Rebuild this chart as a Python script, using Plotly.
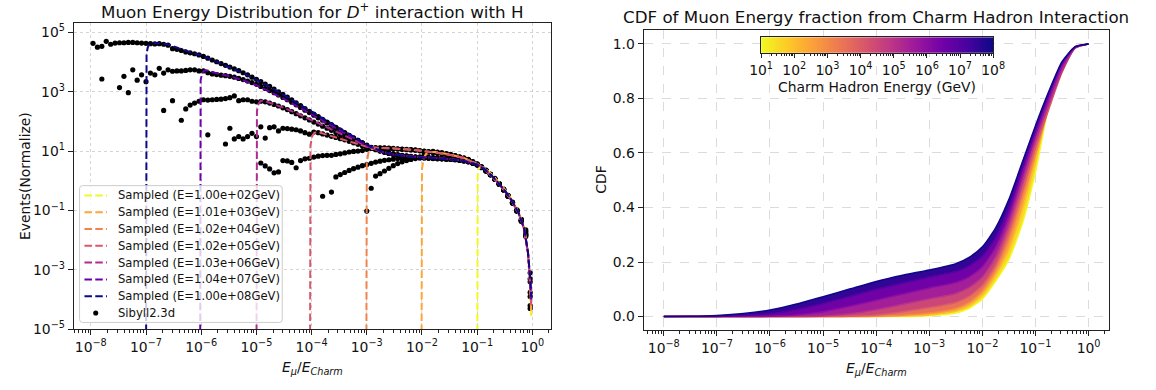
import math
import plotly.graph_objects as go
from plotly.colors import sample_colorscale

FONT = "DejaVu Sans"
N = None

# ---------------- Left panel: muon energy distribution ----------------
# Sibyll2.3d histogram bin centres, log10(E_mu/E_charm)
sib_bin_log10x = [-7.96 + 0.08 * i for i in range(100)]

# Sibyll2.3d normalised events, log10 values per bin (None = empty bin)
sib_log10y_1e8 = [4.63, 4.50, 4.53, 4.70, 4.60, 4.64, 4.65, 4.65, 4.66, 4.66,
                  4.65, 4.64, 4.63, 4.62, 4.61, 4.62, 4.60, 4.57, 4.45, 4.43,
                  4.39, 4.34, 4.31, 4.28, 4.24, 4.19, 4.13, 4.07, 4.01, 3.95,
                  3.89, 3.83, 3.77, 3.71, 3.64, 3.57, 3.49, 3.42, 3.34, 3.26,
                  3.18, 3.09, 3.00, 2.91, 2.82, 2.73, 2.63, 2.53, 2.43, 2.34,
                  2.25, 2.16, 2.07, 1.98, 1.89, 1.80, 1.71, 1.62, 1.53, 1.45,
                  1.36, 1.28, 1.20, 1.13, 1.07, 1.02, 0.98, 0.94, 0.91, 0.88,
                  0.86, 0.84, 0.82, 0.81, 0.80, 0.79, 0.78, 0.77, 0.76, 0.75,
                  0.74, 0.73, 0.72, 0.70, 0.68, 0.65, 0.60, 0.54, 0.45, 0.34,
                  0.21, 0.06, -0.11, -0.30, -0.51, -0.74, -1.01, -1.34, -1.84, -3.10]
sib_log10y_1e7 = [N, N, 3.43, N, N, N, 3.14, 3.52, 2.97, 3.74,
                  3.39, 3.57, 3.34, 3.63, 3.57, 3.79, 3.63, 3.74, 3.69, 3.70,
                  3.70, 3.72, 3.74, 3.74, 3.70, 3.70, 3.64, 3.60, 3.58, 3.56,
                  3.54, 3.52, 3.49, 3.45, 3.41, 3.36, 3.31, 3.25, 3.18, 3.11,
                  3.04, 2.97, 2.89, 2.81, 2.73, 2.65, 2.56, 2.47, 2.38, 2.30,
                  2.21, 2.12, 2.04, 1.95, 1.87, 1.78, 1.69, 1.61, 1.52, 1.44,
                  1.36, 1.28, 1.19, 1.12, 1.06, 1.01, 0.97, 0.93, 0.90, 0.87,
                  0.85, 0.83, 0.81, 0.80, 0.79, 0.78, 0.77, 0.76, 0.75, 0.74,
                  0.73, 0.72, 0.71, 0.69, 0.67, 0.64, 0.59, 0.53, 0.44, 0.33,
                  0.20, 0.05, -0.12, -0.31, -0.52, -0.75, -1.02, -1.36, -1.88, -3.40]
sib_log10y_1e6 = [N] * 16 + [2.37, N, 2.70, N,
                  2.04, 2.42, 2.55, 2.62, 2.68, 2.73, 2.72, 2.73, 2.74, 2.75,
                  2.77, 2.80, 2.86, 2.70, 2.73, 2.73, 2.68, 2.66, 2.68, 2.66,
                  2.62, 2.57, 2.52, 2.46, 2.40, 2.33, 2.26, 2.19, 2.12, 2.05,
                  1.98, 1.91, 1.84, 1.77, 1.70, 1.63, 1.56, 1.49, 1.42, 1.35,
                  1.28, 1.21, 1.15, 1.10, 1.05, 1.00, 0.96, 0.92, 0.89, 0.86,
                  0.84, 0.82, 0.80, 0.79, 0.78, 0.77, 0.76, 0.75, 0.74, 0.74,
                  0.73, 0.72, 0.71, 0.69, 0.67, 0.64, 0.60, 0.54, 0.45, 0.34,
                  0.21, 0.06, -0.11, -0.30, -0.51, -0.74, -1.00, -1.33, -1.80, -3.76]
sib_log10y_1e5 = [N] * 26 + [1.55, N, N, N,
                  1.24, 1.77, 1.41, 1.49, 1.41, 1.49, 1.60, 1.49, 1.82, 1.44,
                  1.79, 1.82, 1.68, 1.77, 1.76, 1.74, 1.72, 1.68, 1.62, 1.57,
                  1.64, 1.62, 1.58, 1.54, 1.50, 1.46, 1.42, 1.38, 1.33, 1.28,
                  1.23, 1.18, 1.13, 1.12, 1.12, 1.11, 1.11, 1.10, 1.09, 1.08,
                  1.07, 1.06, 1.05, 1.04, 1.02, 1.00, 0.98, 0.96, 0.94, 0.92,
                  0.90, 0.87, 0.84, 0.80, 0.76, 0.71, 0.64, 0.56, 0.46, 0.34,
                  0.21, 0.06, -0.11, -0.30, -0.51, -0.74, -1.01, -1.34, -1.82, -4.30]
sib_log10y_1e4 = [N] * 38 + [0.60, 0.50,
                  0.40, 0.27, 0.30, 0.68, 0.67, 0.62, 0.44, 0.68, 0.74, 0.76,
                  0.80, 0.83, 0.85, 0.86, 0.86, 0.89, 0.91, 0.94, 0.97, 0.99,
                  1.00, 1.02, 1.06, 1.09, 1.10, 1.10, 1.10, 1.09, 1.08, 1.07,
                  1.06, 1.05, 1.04, 1.03, 1.01, 0.99, 0.97, 0.95, 0.93, 0.91,
                  0.89, 0.86, 0.83, 0.79, 0.75, 0.70, 0.63, 0.55, 0.45, 0.33,
                  0.20, 0.05, -0.12, -0.31, -0.52, -0.75, -1.02, -1.36, -1.70, -3.30]
sib_log10y_1e3 = [N] * 52 + [-0.52, N, -0.38, 0.13, 0.21, 0.28, 0.35, 0.41,
                  0.46, 0.51, 0.55, 0.59, 0.63, 0.66, 0.69, 0.71, 0.73, 0.75,
                  0.76, 0.77, 0.78, 0.79, 0.80, 0.90, 0.97, 0.99, 0.97, 0.95,
                  0.92, 0.89, 0.85, 0.81, 0.77, 0.72, 0.65, 0.57, 0.47, 0.35,
                  0.22, 0.07, -0.10, -0.29, -0.50, -0.73, -0.99, -1.31, -1.75, -3.90]
sib_log10y_1e2 = [N] * 62 + [-1.02, -0.25, 0.16, 0.24, 0.33, 0.42, 0.51, 0.58,
                  0.64, 0.68, 0.72, 0.75, 0.77, 0.78, 0.78, 0.78, 0.77, 0.76,
                  0.75, 0.74, 0.73, 0.71, 0.68, 0.65, 0.60, 0.55, 0.47, 0.36,
                  0.23, 0.08, -0.09, -0.28, -0.49, -0.72, -0.98, -1.30, -1.65, -4.20]

# Sampled curves: log10(x) and log10(events) pairs (first point = drop to ~0)
samp_log10x_1e8 = [-7.00, -6.99, -6.96, -6.90, -6.75, -6.60, -6.40, -6.20, -6.00, -5.75, -5.50,
                   -5.25, -5.00, -4.75, -4.50, -4.25, -4.00, -3.75, -3.50, -3.25, -3.00,
                   -2.75, -2.50, -2.25, -2.00, -1.75, -1.50, -1.25, -1.00, -0.875, -0.75,
                   -0.625, -0.50, -0.375, -0.25, -0.15, -0.08, -0.04, -0.02]
samp_log10y_1e8 = [-8, 4.30, 4.55, 4.63, 4.63, 4.60, 4.46, 4.33, 4.23, 4.03, 3.84,
                   3.63, 3.41, 3.16, 2.89, 2.61, 2.33, 2.04, 1.77, 1.49, 1.22,
                   1.00, 0.88, 0.82, 0.79, 0.76, 0.72, 0.67, 0.54, 0.40, 0.20,
                   -0.05, -0.33, -0.66, -1.08, -1.60, -2.40, -3.30, -3.90]
samp_log10x_1e7 = [-6.02, -6.01, -5.98, -5.93, -5.85, -5.75, -5.50, -5.25, -5.00, -4.75, -4.50,
                   -4.25, -4.00, -3.75, -3.50, -3.25, -3.00, -2.75, -2.50, -2.25, -2.00,
                   -1.75, -1.50, -1.25, -1.00, -0.875, -0.75, -0.625, -0.50, -0.375, -0.25,
                   -0.15, -0.08, -0.04, -0.02]
samp_log10y_1e7 = [-8, 3.40, 3.64, 3.73, 3.70, 3.64, 3.53, 3.39, 3.22, 3.00, 2.76,
                   2.50, 2.23, 1.97, 1.71, 1.46, 1.20, 0.99, 0.88, 0.83, 0.80,
                   0.77, 0.73, 0.68, 0.55, 0.41, 0.20, -0.05, -0.33, -0.66, -1.08,
                   -1.60, -2.40, -3.30, -4.00]
samp_log10x_1e6 = [-5.00, -4.99, -4.96, -4.92, -4.85, -4.75, -4.50, -4.25, -4.00, -3.75, -3.50,
                   -3.25, -3.00, -2.75, -2.50, -2.25, -2.00, -1.75, -1.50, -1.25, -1.00,
                   -0.875, -0.75, -0.625, -0.50, -0.375, -0.25, -0.15, -0.08, -0.04, -0.02]
samp_log10y_1e6 = [-8, 2.35, 2.60, 2.70, 2.69, 2.63, 2.46, 2.26, 2.05, 1.83, 1.61,
                   1.39, 1.17, 0.99, 0.89, 0.83, 0.80, 0.77, 0.73, 0.68, 0.55,
                   0.41, 0.20, -0.05, -0.33, -0.66, -1.08, -1.60, -2.40, -3.30, -4.10]
samp_log10x_1e5 = [-4.03, -4.02, -3.99, -3.95, -3.88, -3.75, -3.50, -3.25, -3.00, -2.75, -2.50,
                   -2.25, -2.00, -1.75, -1.50, -1.25, -1.00, -0.875, -0.75, -0.625, -0.50,
                   -0.375, -0.25, -0.15, -0.08, -0.04, -0.02]
samp_log10y_1e5 = [-8, 1.20, 1.50, 1.62, 1.64, 1.57, 1.44, 1.29, 1.15, 1.11, 1.09,
                   1.06, 1.01, 0.95, 0.88, 0.77, 0.56, 0.41, 0.19, -0.06, -0.34,
                   -0.67, -1.10, -1.62, -2.42, -3.40, -4.20]
samp_log10x_1e4 = [-3.01, -3.00, -2.97, -2.93, -2.85, -2.75, -2.50, -2.25, -2.00, -1.75, -1.50,
                   -1.25, -1.00, -0.875, -0.75, -0.625, -0.50, -0.375, -0.25, -0.15, -0.08,
                   -0.04, -0.02]
samp_log10y_1e4 = [-8, 0.60, 0.95, 1.06, 1.10, 1.11, 1.09, 1.06, 1.01, 0.95, 0.88,
                   0.77, 0.56, 0.41, 0.19, -0.06, -0.34, -0.67, -1.10, -1.62, -2.42,
                   -3.40, -4.30]
samp_log10x_1e3 = [-2.01, -2.00, -1.97, -1.93, -1.85, -1.75, -1.50, -1.25, -1.00, -0.875, -0.75,
                   -0.625, -0.50, -0.375, -0.25, -0.15, -0.08, -0.04, -0.02]
samp_log10y_1e3 = [-8, 0.40, 0.75, 0.90, 0.97, 0.97, 0.89, 0.78, 0.57, 0.42, 0.20,
                   -0.05, -0.33, -0.67, -1.10, -1.62, -2.45, -3.45, -4.50]
samp_log10x_1e2 = [-1.00, -0.99, -0.97, -0.94, -0.875, -0.75, -0.625, -0.50, -0.375, -0.25,
                   -0.15, -0.08, -0.04, -0.02]
samp_log10y_1e2 = [-8, 0.20, 0.40, 0.47, 0.44, 0.24, -0.01, -0.29, -0.62, -1.04,
                   -1.56, -2.40, -3.45, -4.60]

samp_energy_labels = ["1.00e+02", "1.01e+03", "1.02e+04", "1.02e+05",
                      "1.03e+06", "1.04e+07", "1.00e+08"]
samp_colors = ["#f0f921", "#fca636", "#f2844b", "#d8576b", "#b12a90", "#6a00a8", "#0d0887"]

# ---------------- Right panel: CDF ----------------
cdf_log10x = [-8, -7.5, -7, -6.5, -6, -5.5, -5, -4.5, -4, -3.5, -3, -2.5, -2.25,
              -2, -1.75, -1.5, -1.25, -1, -0.75, -0.5, -0.25, 0]
cdf_log10E = [1, 2, 3, 4, 5, 6, 7, 8]
cdf_E1e1 = [0, 0, 0, 0, 0, 0, 0, 0, 0, 0, 0.003, 0.013, 0.030,
            0.065, 0.13, 0.21, 0.34, 0.53, 0.77, 0.915, 0.99, 1.0]
cdf_E1e2 = [0, 0, 0, 0, 0, 0, 0, 0, 0, 0.002, 0.006, 0.020, 0.040,
            0.080, 0.15, 0.245, 0.39, 0.57, 0.77, 0.905, 0.987, 1.0]
cdf_E1e3 = [0, 0, 0, 0, 0, 0, 0, 0, 0.001, 0.005, 0.013, 0.030, 0.052,
            0.095, 0.17, 0.28, 0.43, 0.595, 0.765, 0.90, 0.985, 1.0]
cdf_E1e4 = [0, 0, 0, 0, 0, 0, 0, 0.001, 0.006, 0.018, 0.033, 0.052, 0.074,
            0.115, 0.19, 0.31, 0.46, 0.62, 0.76, 0.895, 0.985, 1.0]
cdf_E1e5 = [0, 0, 0, 0, 0, 0, 0.002, 0.010, 0.025, 0.045, 0.065, 0.085, 0.107,
            0.145, 0.22, 0.34, 0.49, 0.645, 0.775, 0.90, 0.985, 1.0]
cdf_E1e6 = [0, 0, 0, 0, 0.001, 0.006, 0.018, 0.038, 0.060, 0.083, 0.105, 0.125, 0.146,
            0.183, 0.255, 0.37, 0.52, 0.665, 0.80, 0.92, 0.988, 1.0]
cdf_E1e7 = [0, 0, 0.0005, 0.004, 0.010, 0.026, 0.048, 0.074, 0.100, 0.123, 0.145, 0.165, 0.186,
            0.222, 0.29, 0.40, 0.545, 0.685, 0.815, 0.93, 0.99, 1.0]
cdf_E1e8 = [0, 0.001, 0.004, 0.011, 0.024, 0.046, 0.073, 0.101, 0.129, 0.152, 0.171, 0.194, 0.217,
            0.256, 0.325, 0.43, 0.565, 0.70, 0.825, 0.935, 0.99, 1.0]

cbar_major_log10E = [1, 2, 3, 4, 5, 6, 7, 8]

# ---------------- Layout geometry (pixels) ----------------
W, H = 1156, 390
L_AX = dict(x0=63, x1=550, y0=23, y1=336)
R_AX = dict(x0=645, x1=1120, y0=30, y1=337)
CB = dict(x0=765, x1=1002, y0=37, y1=53)
LEG = dict(x0=69, x1=276, y0=189, y1=329, row0=199, pitch=17.2, h0=74, h1=97, t0=106)
LEG_FONT = 11.6


def px_x(p):
    return p / W


def px_y(p):
    return (H - p) / H


def sup(n):
    s = str(n).replace("-", "\u2212")
    return "10<sup>%s</sup>" % s


fig = go.Figure()

# ---- Sibyll points ----
all_x, all_y = [], []
for series in [sib_log10y_1e2, sib_log10y_1e3, sib_log10y_1e4, sib_log10y_1e5,
               sib_log10y_1e6, sib_log10y_1e7, sib_log10y_1e8]:
    for lx, ly in zip(sib_bin_log10x, series):
        if ly is not None:
            all_x.append(10 ** lx)
            all_y.append(10 ** ly)
fig.add_trace(go.Scatter(x=all_x, y=all_y, mode="markers", name="Sibyll2.3d",
                         marker=dict(color="black", size=5.2, line=dict(width=0)),
                         xaxis="x", yaxis="y", hoverinfo="skip"))

samp_x = [samp_log10x_1e2, samp_log10x_1e3, samp_log10x_1e4, samp_log10x_1e5,
          samp_log10x_1e6, samp_log10x_1e7, samp_log10x_1e8]
samp_y = [samp_log10y_1e2, samp_log10y_1e3, samp_log10y_1e4, samp_log10y_1e5,
          samp_log10y_1e6, samp_log10y_1e7, samp_log10y_1e8]
DASH = "7.5px,3.3px"
for i, (lxs, lys) in enumerate(zip(samp_x, samp_y)):
    fig.add_trace(go.Scatter(
        x=[10 ** v for v in lxs], y=[10 ** v for v in lys], mode="lines",
        name="Sampled (E=%sGeV)" % samp_energy_labels[i],
        line=dict(color=samp_colors[i], width=2, dash=DASH),
        xaxis="x", yaxis="y", hoverinfo="skip"))

# ---- CDF band ----
cdf_curves = [cdf_E1e1, cdf_E1e2, cdf_E1e3, cdf_E1e4, cdf_E1e5, cdf_E1e6, cdf_E1e7, cdf_E1e8]
cdf_x = [10 ** v for v in cdf_log10x]


def plasma_r(logE):
    t = (8 - logE) / 7.0
    return sample_colorscale("Plasma", [min(max(t, 0), 1)])[0]


for k, curve in enumerate(cdf_curves):
    logE = cdf_log10E[k]
    kw = {}
    if k > 0:
        kw = dict(fill="tonexty", fillcolor=plasma_r(logE - 0.5))
    fig.add_trace(go.Scatter(
        x=cdf_x, y=curve, mode="lines",
        line=dict(color=plasma_r(logE), width=1.5, shape="spline", smoothing=0.6),
        xaxis="x2", yaxis="y2", hoverinfo="skip", **kw))

# ---- colour bar drawn as a thin heatmap on its own axes ----
cb_ramp = [1 + 0.05 * i for i in range(141)]
fig.add_trace(go.Heatmap(z=[cb_ramp], x=cb_ramp, y=[0], colorscale="Plasma", reversescale=True,
                         zmin=1, zmax=8, showscale=False, zsmooth="best", hoverinfo="skip",
                         xaxis="x3", yaxis="y3"))
cb_minor = [k + math.log10(m) for k in range(1, 8) for m in range(2, 10)]
log_minor = [m * 10.0 ** k for k in range(-9, 1) for m in range(2, 10)]

# invisible helpers so the minor-tick overlay axes exist
fig.add_trace(go.Scatter(x=[1e-3], y=[1e-12], mode="markers", marker=dict(opacity=0),
                         xaxis="x4", yaxis="y", hoverinfo="skip"))
fig.add_trace(go.Scatter(x=[1e-3], y=[-5], mode="markers", marker=dict(opacity=0),
                         xaxis="x5", yaxis="y2", hoverinfo="skip"))

axis_common = dict(showline=True, mirror=True, linecolor="#222", linewidth=1.1,
                   ticks="outside", ticklen=4.9, tickwidth=1.1, tickcolor="#222",
                   tickfont=dict(family=FONT, size=13.9, color="#111"), zeroline=False)
minor_axis = dict(type="log", tickmode="array", tickvals=log_minor, ticks="outside",
                  ticklen=2.8, tickwidth=0.8, tickcolor="#222", showticklabels=False,
                  showgrid=False, showline=False, zeroline=False)
x_ticks = list(range(-8, 1))
L_RANGE = [-8.31, 0.33]
R_RANGE = [-8.38, 0.38]
fig.update_layout(
    width=W, height=H, margin=dict(l=0, r=0, t=0, b=0),
    paper_bgcolor="white", plot_bgcolor="white",
    font=dict(family=FONT, color="#111"), showlegend=False,
    xaxis=dict(domain=[px_x(L_AX["x0"]), px_x(L_AX["x1"])], type="log", range=L_RANGE,
               tickmode="array", tickvals=[10 ** v for v in x_ticks], ticktext=[sup(v) for v in x_ticks],
               showgrid=True, gridcolor="rgba(176,176,176,0.55)", griddash="dot", gridwidth=1,
               anchor="y", **axis_common),
    yaxis=dict(domain=[px_y(L_AX["y1"]), px_y(L_AX["y0"])], type="log", range=[-5, 5.3],
               tickmode="array", tickvals=[10 ** v for v in [5, 3, 1, -1, -3, -5]],
               ticktext=[sup(v) for v in [5, 3, 1, -1, -3, -5]],
               showgrid=True, gridcolor="rgba(176,176,176,0.55)", griddash="dot", gridwidth=1,
               anchor="x", **axis_common),
    xaxis4=dict(domain=[px_x(L_AX["x0"]), px_x(L_AX["x1"])], range=L_RANGE, anchor="y",
                overlaying="x", **minor_axis),
    xaxis2=dict(domain=[px_x(R_AX["x0"]), px_x(R_AX["x1"])], type="log", range=R_RANGE,
                tickmode="array", tickvals=[10 ** v for v in x_ticks], ticktext=[sup(v) for v in x_ticks],
                showgrid=True, gridcolor="rgba(176,176,176,0.45)", griddash="dash", gridwidth=1,
                anchor="y2", **axis_common),
    xaxis5=dict(domain=[px_x(R_AX["x0"]), px_x(R_AX["x1"])], range=R_RANGE, anchor="y2",
                overlaying="x2", **minor_axis),
    yaxis2=dict(domain=[px_y(R_AX["y1"]), px_y(R_AX["y0"])], range=[-0.05, 1.05],
                tickmode="array", tickvals=[0, 0.2, 0.4, 0.6, 0.8, 1.0],
                ticktext=["0.0", "0.2", "0.4", "0.6", "0.8", "1.0"],
                showgrid=True, gridcolor="rgba(176,176,176,0.45)", griddash="dash", gridwidth=1,
                anchor="x2", **axis_common),
    xaxis3=dict(domain=[px_x(CB["x0"]), px_x(CB["x1"])], range=[1, 8], anchor="y3",
                showline=True, mirror=True, linecolor="#222", linewidth=1.1,
                tickmode="array", tickvals=cbar_major_log10E,
                ticktext=[sup(v) for v in cbar_major_log10E],
                ticks="outside", ticklen=4.2, tickwidth=1, tickcolor="#222",
                tickfont=dict(family=FONT, size=13.9, color="#111"),
                minor=dict(tickmode="array", tickvals=cb_minor, ticks="outside",
                           ticklen=2.5, tickwidth=0.8, tickcolor="#222", showgrid=False),
                showgrid=False, zeroline=False, fixedrange=True),
    yaxis3=dict(domain=[px_y(CB["y1"]), px_y(CB["y0"])], range=[-0.5, 0.5], anchor="x3",
                showline=True, mirror=True, linecolor="#222", linewidth=1.1,
                showticklabels=False, ticks="", showgrid=False, zeroline=False, fixedrange=True),
)

# ---- legend (matplotlib-style, drawn in paper space) ----
shapes = []
r = 3.0
x0, x1, y0, y1 = LEG["x0"], LEG["x1"], LEG["y0"], LEG["y1"]
pts = [("M", x0 + r, y0), ("L", x1 - r, y0), ("Q", x1, y0, x1, y0 + r), ("L", x1, y1 - r),
       ("Q", x1, y1, x1 - r, y1), ("L", x0 + r, y1), ("Q", x0, y1, x0, y1 - r),
       ("L", x0, y0 + r), ("Q", x0, y0, x0 + r, y0)]
path = ""
for p in pts:
    if p[0] == "Q":
        path += "Q%.5f,%.5f %.5f,%.5f " % (px_x(p[1]), px_y(p[2]), px_x(p[3]), px_y(p[4]))
    else:
        path += "%s%.5f,%.5f " % (p[0], px_x(p[1]), px_y(p[2]))
path += "Z"
shapes.append(dict(type="path", path=path, xref="paper", yref="paper", layer="above",
                   fillcolor="rgba(255,255,255,0.8)", line=dict(color="#cccccc", width=1)))
legend_labels = ["Sampled (E=%sGeV)" % e for e in samp_energy_labels] + ["Sibyll2.3d"]
ann = []
for i, lab in enumerate(legend_labels):
    yc = LEG["row0"] + LEG["pitch"] * i
    if i < len(samp_colors):
        shapes.append(dict(type="line", xref="paper", yref="paper", layer="above",
                           x0=px_x(LEG["h0"]), x1=px_x(LEG["h1"]), y0=px_y(yc), y1=px_y(yc),
                           line=dict(color=samp_colors[i], width=2, dash=DASH)))
    else:
        xc = (LEG["h0"] + LEG["h1"]) / 2
        shapes.append(dict(type="circle", xref="paper", yref="paper", layer="above",
                           x0=px_x(xc - 2.6), x1=px_x(xc + 2.6), y0=px_y(yc + 2.6), y1=px_y(yc - 2.6),
                           fillcolor="black", line=dict(width=0)))
    ann.append(dict(text=lab, x=px_x(LEG["t0"]), y=px_y(yc), xanchor="left", yanchor="middle",
                    font=dict(size=LEG_FONT)))
fig.update_layout(shapes=shapes)

lc = (L_AX["x0"] + L_AX["x1"]) / 2
rc = (R_AX["x0"] + R_AX["x1"]) / 2
ann.append(dict(text="Muon Energy Distribution for <i>D</i><sup>+</sup> interaction with H",
                x=px_x(lc), y=px_y(10), xanchor="center", yanchor="middle",
                font=dict(size=16.7)))
ann.append(dict(text="CDF of Muon Energy fraction from Charm Hadron Interaction",
                x=px_x(rc), y=px_y(16), xanchor="center", yanchor="middle",
                font=dict(size=16.7)))
xl = "<i>E</i><sub><i>\u03bc</i></sub>/<i>E</i><sub><i>Charm</i></sub>"
ann.append(dict(text=xl, x=px_x(lc), y=px_y(376), xanchor="center", yanchor="middle",
                font=dict(size=13.9)))
ann.append(dict(text=xl, x=px_x(rc), y=px_y(377), xanchor="center", yanchor="middle",
                font=dict(size=13.9)))
ann.append(dict(text="Events(Normalize)", x=px_x(14), y=px_y((L_AX["y0"] + L_AX["y1"]) / 2),
                xanchor="center", yanchor="middle", textangle=-90, font=dict(size=13.9)))
ann.append(dict(text="CDF", x=px_x(602), y=px_y((R_AX["y0"] + R_AX["y1"]) / 2),
                xanchor="center", yanchor="middle", textangle=-90, font=dict(size=13.9)))
ann.append(dict(text="Charm Hadron Energy (GeV)", x=px_x((CB["x0"] + CB["x1"]) / 2), y=px_y(88),
                xanchor="center", yanchor="middle", font=dict(size=13.9)))
for a in ann:
    a.update(xref="paper", yref="paper", showarrow=False)
    a["font"].update(family=FONT, color="#111")
fig.update_layout(annotations=ann)

fig.write_html("out.html")
